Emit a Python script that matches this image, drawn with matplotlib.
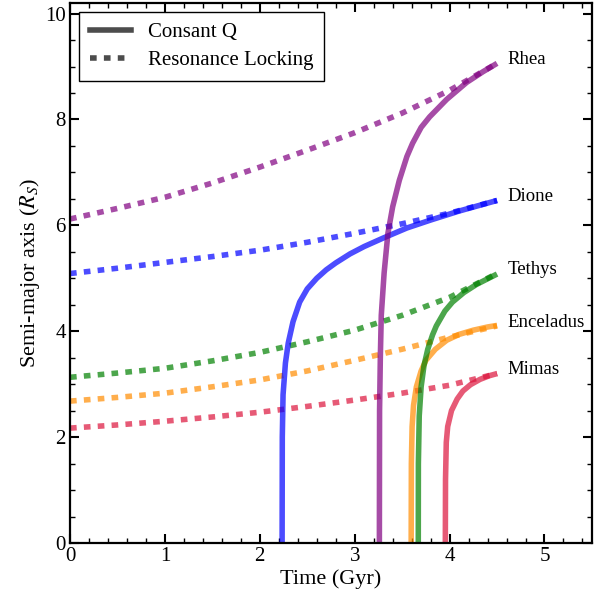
import numpy as np
import matplotlib.pyplot as plt
from matplotlib.ticker import MultipleLocator

plt.rcParams['font.family'] = ['Liberation Serif', 'DejaVu Serif']
plt.rcParams['mathtext.fontset'] = 'stix'

moons = ["Mimas", "Enceladus", "Tethys", "Dione", "Rhea"]
colors = ["crimson", "darkorange", "green", "blue", "purple"]

# resonance locking (dotted)
t_rl = [0.0, 0.5, 1.0, 1.5, 2.0, 2.5, 3.0, 3.5, 4.0, 4.5]
a_rl = {
    "Mimas":     [2.17, 2.23, 2.30, 2.38, 2.47, 2.58, 2.70, 2.83, 2.98, 3.20],
    "Enceladus": [2.68, 2.75, 2.83, 2.95, 3.08, 3.25, 3.45, 3.66, 3.89, 4.10],
    "Tethys":    [3.13, 3.21, 3.30, 3.44, 3.60, 3.80, 4.02, 4.30, 4.64, 5.09],
    "Dione":     [5.09, 5.19, 5.30, 5.41, 5.53, 5.68, 5.85, 6.03, 6.23, 6.47],
    "Rhea":      [6.12, 6.32, 6.53, 6.80, 7.10, 7.42, 7.75, 8.12, 8.55, 9.06],
}

# constant Q (solid)
t_cq = {
    "Mimas":     [3.955, 3.957, 3.965, 3.98, 4.02, 4.08, 4.14, 4.22, 4.32, 4.42, 4.5],
    "Enceladus": [3.595, 3.597, 3.605, 3.62, 3.65, 3.70, 3.75, 3.85, 3.97, 4.10, 4.25, 4.40, 4.5],
    "Tethys":    [3.67, 3.671, 3.68, 3.70, 3.73, 3.77, 3.82, 3.86, 3.95, 4.03, 4.15, 4.28, 4.40, 4.5],
    "Dione":     [2.235, 2.237, 2.245, 2.27, 2.30, 2.35, 2.42, 2.50, 2.60, 2.70, 2.80, 2.95,
                  3.10, 3.30, 3.55, 3.80, 4.10, 4.5],
    "Rhea":      [3.26, 3.262, 3.27, 3.28, 3.31, 3.35, 3.40, 3.47, 3.55, 3.61, 3.70, 3.79,
                  3.97, 4.18, 4.35, 4.5],
}
a_cq = {
    "Mimas":     [0.0, 1.2, 1.9, 2.2, 2.5, 2.72, 2.87, 2.99, 3.09, 3.16, 3.20],
    "Enceladus": [0.0, 1.5, 2.2, 2.6, 2.95, 3.25, 3.45, 3.66, 3.83, 3.94, 4.02, 4.08, 4.11],
    "Tethys":    [0.0, 1.5, 2.4, 2.95, 3.35, 3.66, 3.93, 4.10, 4.38, 4.55, 4.73, 4.88, 4.99, 5.08],
    "Dione":     [0.0, 2.0, 2.8, 3.4, 3.78, 4.18, 4.55, 4.80, 5.00, 5.16, 5.29, 5.46,
                  5.60, 5.76, 5.95, 6.10, 6.27, 6.47],
    "Rhea":      [0.0, 2.5, 3.5, 4.3, 5.1, 5.85, 6.35, 6.85, 7.30, 7.55, 7.85, 8.05,
                  8.38, 8.70, 8.90, 9.06],
}

fig = plt.figure(figsize=(6.02, 5.98), dpi=100)
ax = fig.add_axes([0.1163, 0.092, 0.867, 0.903])

for m, c in zip(moons, colors):
    ax.plot(t_cq[m], a_cq[m], color=c, alpha=0.7, lw=4, solid_capstyle='butt')
    ax.plot(t_rl, a_rl[m], color=c, alpha=0.7, lw=4, linestyle=(0, (1.2, 1.3)))
    ax.text(4.61, a_rl[m][-1] + 0.07, m, fontsize=13.5, va='center', ha='left')

# legend handles
ax.plot([], [], color='k', alpha=0.7, lw=4, label='Consant Q')
ax.plot([], [], color='k', alpha=0.7, lw=4, linestyle=(0, (1.2, 1.3)),
        label='Resonance Locking')
leg = ax.legend(loc='upper left', fontsize=15, fancybox=False, framealpha=1,
                edgecolor='k', handlelength=2.0, borderaxespad=0.45,
                borderpad=0.5, labelspacing=0.4)
leg.get_frame().set_linewidth(1.0)

ax.set_xlim(0, 5.5)
ax.set_ylim(0, 10.2)
ax.xaxis.set_major_locator(MultipleLocator(1))
ax.xaxis.set_minor_locator(MultipleLocator(0.2))
ax.yaxis.set_major_locator(MultipleLocator(2))
ax.yaxis.set_minor_locator(MultipleLocator(0.5))
ax.tick_params(which='both', direction='in', top=True, right=True, labelsize=15)
ax.tick_params(which='major', length=6.5, width=1.5, pad=3)
ax.tick_params(which='minor', length=3.5, width=1.0)
for s in ax.spines.values():
    s.set_linewidth(1.6)

ax.set_xlabel("Time (Gyr)", fontsize=16, labelpad=2)
ax.set_ylabel("Semi-major axis ($R_S$)", fontsize=16, labelpad=2)

fig.savefig("out.png", dpi=100)
